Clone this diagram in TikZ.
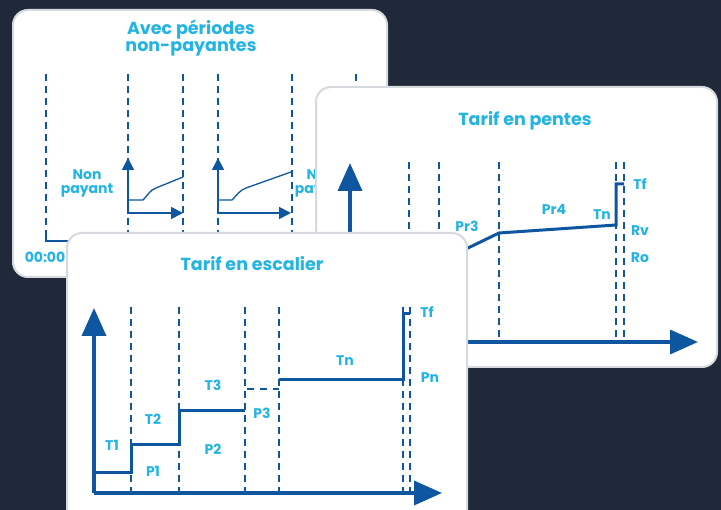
\documentclass[tikz,border=0pt]{standalone}
\usepackage{fontspec}
\setsansfont{Poppins}
\usetikzlibrary{arrows.meta}
\definecolor{navy}{RGB}{31,41,58}
\definecolor{lineblue}{RGB}{14,86,160}
\definecolor{labelcyan}{RGB}{36,180,228}
\definecolor{cardedge}{RGB}{214,217,221}

\begin{document}
\begin{tikzpicture}[x=1pt, y=-1pt,
	card/.style={fill=white, draw=cardedge, line width=2pt, rounded corners=15pt},
	title/.style={font=\sffamily\bfseries\fontsize{17.5}{16}\selectfont, text=labelcyan, align=center, inner sep=0pt},
	lbl/.style={font=\sffamily\bfseries\fontsize{14}{14}\selectfont, text=labelcyan, align=center, inner sep=0pt},
	period/.style={draw=lineblue, line width=1.4pt, dash pattern=on 7pt off 5pt},
	axis/.style={draw=lineblue, line width=3.5pt, -{Triangle[length=28pt,width=24pt]}},
	tarif/.style={draw=lineblue, line width=3pt},
	miniaxis/.style={draw=lineblue, line width=1.8pt, {Triangle[length=12pt,width=12pt]}-{Triangle[length=12pt,width=12pt]}},
	mini/.style={draw=lineblue, line width=1.3pt}]
			\clip (0,0) rectangle (721,510);
			\fill[navy] (0,0) rectangle (721,510);

			% Card: periodes non-payantes
			\draw[card] (13,10) rectangle (387,277);
			\node[title] (avec) at (191,38) {Avec périodes\\non-payantes};
			\foreach \x in {46,128,183,218,292,356}
				\draw[period] (\x,74) -- (\x,234);
			\draw[tarif, line width=2.5pt] (46,234) -- (46,241) -- (80,241);
			\node[lbl] (np1) at (87,183) {Non\\payant};
			\node[lbl] (np2) at (321,183) {Non\\payant};
			\node[lbl] (minuit) at (45,257) {00:00};
			\draw[miniaxis] (128,158) -- (128,213) -- (183,213);
			\draw[mini] (128,200) -- (143,200) .. controls (148,195) and (150,190) .. (156,188) -- (183,177);
			\draw[miniaxis] (218,158) -- (218,213) -- (291,213);
			\draw[mini] (218,200) -- (232,200) .. controls (237,195) and (240,190) .. (246,188) -- (291,172);

			% Card: tarif en pentes
			\draw[card] (316,87) rectangle (717,367);
			\node[title] (pentes) at (525,121) {Tarif en pentes};
			\foreach \x in {409,439,499,616,624}
				\draw[period] (\x,162) -- (\x,342);
			\draw[axis] (350,342) -- (350,163);
			\draw[axis] (350,342) -- (698,342);
			\draw[tarif] (439,261) -- (468,248) -- (499,233) -- (616,225) -- (616,184) -- (624,184);
			\node[lbl] (pr3) at (467,226) {Pr3};
			\node[lbl] (pr4) at (554,209) {Pr4};
			\node[lbl] (tnp) at (602,215) {Tn};
			\node[lbl] (tfp) at (640,184) {Tf};
			\node[lbl] (rv) at (640,231) {Rv};
			\node[lbl] (ro) at (640,258) {Ro};

			% Card: tarif en escalier
			\draw[card] (67,233) rectangle (467,540);
			\node[title] (escalier) at (252,264) {Tarif en escalier};
			\foreach \x in {131,179,245,279,403,410}
				\draw[period] (\x,307) -- (\x,493);
			\draw[axis] (94,493) -- (94,308);
			\draw[axis] (94,493) -- (442,493);
			\draw[tarif] (94,473) -- (131,473) -- (131,445) -- (179,445) -- (179,411) -- (245,411);
			\draw[tarif, line width=2.5pt, dash pattern=on 7pt off 6pt] (247,389) -- (279,389);
			\draw[tarif] (279,380) -- (403,380) -- (403,314) -- (410,314);
			\node[lbl] (t1) at (112,445) {T1};
			\node[lbl] (p1) at (153,471) {P1};
			\node[lbl] (t2) at (153,419) {T2};
			\node[lbl] (p2) at (213,449) {P2};
			\node[lbl] (t3) at (213,385) {T3};
			\node[lbl] (p3) at (262,413) {P3};
			\node[lbl] (tn) at (345,361) {Tn};
			\node[lbl] (pn) at (430,378) {Pn};
			\node[lbl] (tf) at (427,312) {Tf};
		\end{tikzpicture}
\end{document}
